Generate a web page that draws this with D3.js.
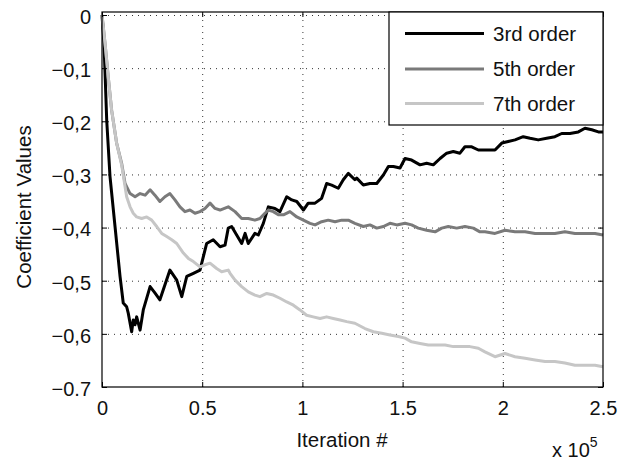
<!DOCTYPE html>
<html><head><meta charset="utf-8">
<script src="https://cdn.jsdelivr.net/npm/d3@7"></script>
<style>
body{margin:0;background:#fff;}
text{font-family:"Liberation Sans",Arial,Helvetica,sans-serif;fill:#111;}
</style></head>
<body>
<svg id="chart" width="626" height="461"></svg>
<script>
// ---- data ----
const seriesNames = ["3rd order", "5th order", "7th order"];
const xTicks = [0, 50000, 100000, 150000, 200000, 250000];
const xTickLabels = ["0", "0.5", "1", "1.5", "2", "2.5"];
const yTicks = [0, -0.1, -0.2, -0.3, -0.4, -0.5, -0.6, -0.7];
const yTickLabels = ["0", "\u22120,1", "\u22120,2", "\u22120,3", "\u22120,4", "\u22120,5", "\u22120,6", "\u22120.7"];

const order3 = [
[0,0],[1000,-0.053],[2350,-0.198],[4000,-0.304],[6500,-0.398],[9000,-0.492],[10600,-0.542],
[12300,-0.549],[13100,-0.561],[14800,-0.596],[15600,-0.574],[16500,-0.583],[17300,-0.568],
[19000,-0.593],[20600,-0.555],[24000,-0.511],[26400,-0.523],[28900,-0.536],[33900,-0.480],
[37300,-0.499],[39800,-0.530],[42300,-0.492],[45600,-0.486],[48900,-0.480],[52200,-0.430],
[55500,-0.423],[58900,-0.436],[61400,-0.433],[63000,-0.401],[64700,-0.398],[67200,-0.414],
[69700,-0.430],[71400,-0.411],[73000,-0.430],[76300,-0.411],[78000,-0.414],[80500,-0.392],
[83000,-0.361],[86300,-0.364],[88800,-0.370],[92200,-0.342],[94700,-0.348],[97200,-0.351],
[100500,-0.367],[102900,-0.354],[106300,-0.354],[109600,-0.345],[112100,-0.317],[114600,-0.320],
[117900,-0.326],[120400,-0.310],[122900,-0.298],[126200,-0.310],[127100,-0.307],[130400,-0.320],
[133700,-0.317],[137100,-0.317],[140400,-0.301],[142900,-0.285],[145400,-0.285],[148700,-0.288],
[151200,-0.270],[154500,-0.273],[158700,-0.282],[162000,-0.279],[165300,-0.282],[168700,-0.270],
[172000,-0.260],[175300,-0.257],[178600,-0.260],[181100,-0.248],[184500,-0.248],[187800,-0.254],
[192800,-0.254],[196100,-0.254],[199500,-0.241],[202700,-0.238],[206100,-0.235],[210200,-0.229],
[213600,-0.232],[217700,-0.235],[221900,-0.232],[226000,-0.229],[229400,-0.223],[233500,-0.223],
[237700,-0.220],[241000,-0.213],[244400,-0.216],[247700,-0.220],[250000,-0.220]
];
const order5 = [
[0,0],[1500,-0.053],[3100,-0.116],[4800,-0.179],[7300,-0.241],[9800,-0.279],[11500,-0.317],
[14000,-0.336],[16500,-0.342],[19000,-0.336],[21500,-0.339],[24000,-0.329],[26400,-0.339],
[28900,-0.351],[31400,-0.342],[33900,-0.336],[36400,-0.348],[38900,-0.361],[41400,-0.370],
[43900,-0.367],[46400,-0.373],[48900,-0.370],[51400,-0.364],[53900,-0.354],[56400,-0.364],
[58900,-0.367],[63000,-0.361],[66400,-0.370],[69700,-0.383],[73000,-0.383],[76300,-0.386],
[78800,-0.383],[81300,-0.373],[83000,-0.367],[85500,-0.370],[88000,-0.376],[90500,-0.376],
[93800,-0.370],[97200,-0.380],[100500,-0.386],[103800,-0.392],[106300,-0.395],[109600,-0.389],
[112900,-0.386],[116300,-0.389],[119600,-0.386],[122900,-0.386],[126200,-0.392],[130400,-0.398],
[133700,-0.395],[137100,-0.401],[140400,-0.398],[143700,-0.392],[147100,-0.395],[151200,-0.392],
[154500,-0.395],[157800,-0.401],[162000,-0.405],[166200,-0.408],[169500,-0.401],[172800,-0.398],
[177000,-0.401],[181100,-0.398],[185300,-0.401],[188600,-0.408],[191100,-0.408],[196100,-0.411],
[201100,-0.405],[206100,-0.408],[211100,-0.408],[216100,-0.411],[221100,-0.411],[226000,-0.411],
[231000,-0.408],[236000,-0.411],[241000,-0.411],[246000,-0.411],[250000,-0.414]
];
const order7 = [
[0,0],[1500,-0.053],[3100,-0.116],[4800,-0.179],[7300,-0.241],[9800,-0.282],[12300,-0.342],
[14000,-0.361],[15600,-0.373],[17300,-0.380],[19800,-0.383],[22300,-0.380],[24800,-0.386],
[27300,-0.398],[29800,-0.411],[32300,-0.417],[34800,-0.423],[37300,-0.430],[40600,-0.448],
[43100,-0.458],[45600,-0.464],[48900,-0.474],[51400,-0.470],[53900,-0.467],[57200,-0.477],
[59700,-0.483],[63000,-0.480],[63900,-0.486],[66400,-0.499],[69700,-0.511],[73000,-0.521],
[76300,-0.527],[78800,-0.530],[82200,-0.524],[85500,-0.527],[88800,-0.533],[92200,-0.540],
[95500,-0.546],[98800,-0.555],[102100,-0.565],[105400,-0.568],[108800,-0.571],[112100,-0.568],
[115400,-0.571],[118800,-0.574],[122100,-0.577],[126200,-0.580],[131200,-0.590],[135400,-0.596],
[139600,-0.599],[143700,-0.602],[147900,-0.605],[151200,-0.608],[154500,-0.615],[158700,-0.618],
[162800,-0.621],[167000,-0.621],[171200,-0.621],[175300,-0.624],[179500,-0.624],[183600,-0.624],
[187800,-0.627],[191100,-0.634],[196100,-0.643],[201100,-0.637],[206100,-0.643],[211100,-0.646],
[216100,-0.649],[221100,-0.652],[226000,-0.652],[231000,-0.655],[236000,-0.659],[241000,-0.659],
[246000,-0.659],[250000,-0.662]
];
const seriesData = [order3, order5, order7];
const seriesColors = ["#000000", "#7a7a7a", "#c6c6c6"];

// ---- layout ----
const L = 102, R = 603, T = 12, B = 387, Y0 = 15;
const svg = d3.select("#chart");
const x = d3.scaleLinear().domain([0, 250000]).range([L, R]);
const y = d3.scaleLinear().domain([-0.7, 0]).range([B, Y0]);

// grid
const gridStyle = g => g.selectAll("line").attr("stroke", "#333").attr("stroke-width", 1).attr("stroke-dasharray", "1,5");
svg.append("g").attr("transform", `translate(0,${B})`)
  .call(d3.axisBottom(x).tickValues(xTicks.slice(1, -1)).tickSize(-(B - T)).tickFormat(""))
  .call(g => g.select(".domain").remove()).call(gridStyle);
svg.append("g").attr("transform", `translate(${L},0)`)
  .call(d3.axisLeft(y).tickValues(yTicks.slice(0, -1)).tickSize(-(R - L)).tickFormat(""))
  .call(g => g.select(".domain").remove()).call(gridStyle);

// lines
const line = d3.line().x(d => x(d[0])).y(d => y(d[1]));
seriesData.forEach((s, i) => {
  svg.append("path").datum(s).attr("d", line).attr("fill", "none")
    .attr("stroke", seriesColors[i]).attr("stroke-width", 3).attr("stroke-linejoin", "round");
});

// axes (ticks inward)
const fs = "20px";
const ax = svg.append("g").attr("transform", `translate(0,${B})`)
  .call(d3.axisBottom(x).tickValues(xTicks).tickFormat((d, i) => xTickLabels[i]).tickSize(-5).tickPadding(14));
const ay = svg.append("g").attr("transform", `translate(${L},0)`)
  .call(d3.axisLeft(y).tickValues(yTicks).tickFormat((d, i) => yTickLabels[i]).tickSize(-5).tickPadding(11));
const at = svg.append("g").attr("transform", `translate(0,${T})`)
  .call(d3.axisTop(x).tickValues(xTicks).tickFormat("").tickSize(-5));
const ar = svg.append("g").attr("transform", `translate(${R},0)`)
  .call(d3.axisRight(y).tickValues(yTicks).tickFormat("").tickSize(-5));
[ax, ay, at, ar].forEach(g => {
  g.select(".domain").remove();
  g.selectAll("line").attr("stroke", "#000");
  g.selectAll("text").attr("font-size", fs).attr("fill", "#111")
    .attr("font-family", "'Liberation Sans', Arial, sans-serif");
});
ay.selectAll("text").attr("dy", "0.42em");
ax.selectAll("text").attr("dy", "0.72em");

// frame
svg.append("rect").attr("x", L).attr("y", T).attr("width", R - L).attr("height", B - T)
  .attr("fill", "none").attr("stroke", "#000").attr("stroke-width", 1.2);

// axis titles
svg.append("text").attr("x", 342).attr("y", 447).attr("text-anchor", "middle")
  .attr("font-size", "20.5px").text("Iteration #");
svg.append("text").attr("transform", "translate(31,207) rotate(-90)").attr("text-anchor", "middle")
  .attr("font-size", "20.5px").text("Coefficient Values");
const ex = svg.append("text").attr("x", 552).attr("y", 457).attr("font-size", "20px");
ex.append("tspan").text("x 10");
ex.append("tspan").attr("dy", -10).attr("font-size", "14px").text("5");

// legend
const lg = svg.append("g");
lg.append("rect").attr("x", 389).attr("y", T).attr("width", R - 389).attr("height", 113)
  .attr("fill", "#fff").attr("stroke", "#000").attr("stroke-width", 1.2);
const rowY = [33.5, 69, 103.5];
seriesNames.forEach((n, i) => {
  lg.append("line").attr("x1", 405).attr("x2", 484).attr("y1", rowY[i]).attr("y2", rowY[i])
    .attr("stroke", seriesColors[i]).attr("stroke-width", 3);
  lg.append("text").attr("x", 493).attr("y", rowY[i]).attr("dy", "0.36em")
    .attr("font-size", "20.5px").text(n);
});
</script>
</body></html>
